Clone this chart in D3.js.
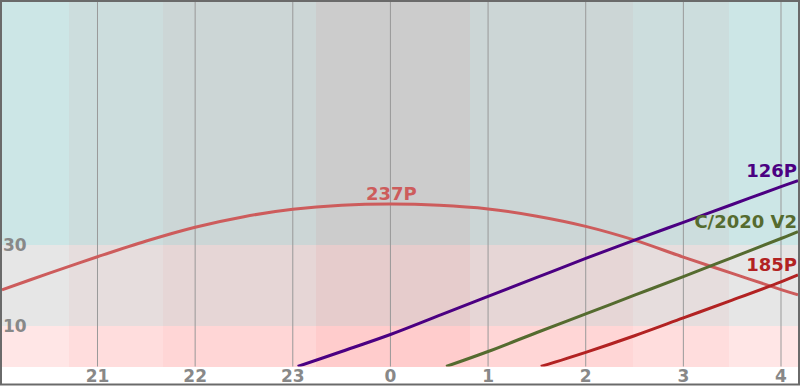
<!DOCTYPE html>
<html>
<head>
<meta charset="utf-8">
<script src="https://cdn.jsdelivr.net/npm/d3@7"></script>
<style>
  body { margin: 0; background: #fff; }
  text { font-family: "DejaVu Sans", sans-serif; font-weight: bold; }
</style>
</head>
<body>
<script>
// hours relative to local midnight
const timeRange = [-3.978, 4.174];
const tickHours = [-3, -2, -1, 0, 1, 2, 3, 4];
const tickLabels = ["21", "22", "23", "0", "1", "2", "3", "4"];

// twilight bands (sun up -> night -> sun up)
const twilightEdges = [-3.978, -3.292, -2.329, -0.762, 0.815, 2.485, 3.468, 4.174];
const twilightLevel = [0, 1, 2, 3, 2, 1, 0];
const twilightShade = [230, 221, 214, 204];

// altitude zones
const altEdges = [0, 10, 30, 90];
const altRed = [255, 230, 204];
const altLabels = [10, 30];

const names = ["237P", "126P", "C/2020 V2", "185P"];
const colors = ["#cd5c5c", "#4b0082", "#556b2f", "#b22222"];

const hours237P = [-3.978, -3.5, -3, -2.5, -2, -1.5, -1, -0.5, 0, 0.5, 1, 1.5, 2, 2.5, 3, 3.5, 4, 4.174];
const alt237P = [18.9, 23.0, 27.1, 31.0, 34.4, 37.0, 38.8, 39.8, 40.1, 39.8, 38.9, 37.1, 34.6, 31.2, 27.0, 23.0, 19.0, 17.7];

const hours126P = [-0.95, -0.5, 0, 0.5, 1, 1.5, 2, 2.5, 3, 3.5, 4, 4.174];
const alt126P = [0, 3.7, 7.9, 12.6, 17.3, 22.0, 26.7, 31.2, 35.6, 40.0, 44.4, 45.9];

const hoursC2020 = [0.57, 1, 1.5, 2, 2.5, 3, 3.5, 4, 4.174];
const altC2020 = [0, 3.7, 8.4, 13.0, 17.6, 22.2, 26.9, 31.6, 33.3];

const hours185P = [1.54, 2, 2.5, 3, 3.5, 4, 4.174];
const alt185P = [0, 3.5, 7.6, 12.0, 16.4, 20.9, 22.6];

const seriesHours = [hours237P, hours126P, hoursC2020, hours185P];
const seriesAlt = [alt237P, alt126P, altC2020, alt185P];

const width = 800;
const height = 386;
const plotLeft = 2, plotRight = 798, plotTop = 2, plotBottom = 366.5;

const x = d3.scaleLinear().domain(timeRange).range([plotLeft, plotRight]);
const y = d3.scaleLinear().domain([0, 90]).range([plotBottom, plotTop]);

const svg = d3.select("body")
    .append("svg")
    .attr("width", width)
    .attr("height", height);

svg.append("clipPath")
    .attr("id", "plot")
    .append("rect")
    .attr("x", plotLeft)
    .attr("y", plotTop)
    .attr("width", plotRight - plotLeft)
    .attr("height", plotBottom - plotTop);

// background cells: twilight band x altitude zone
const cells = [];
twilightLevel.forEach((lvl, i) => {
    altRed.forEach((r, j) => {
        cells.push({ x0: twilightEdges[i], x1: twilightEdges[i + 1], a0: altEdges[j], a1: altEdges[j + 1], r: r, g: twilightShade[lvl] });
    });
});

svg.append("g")
    .selectAll("rect")
    .data(cells)
    .enter().append("rect")
    .attr("x", d => x(d.x0))
    .attr("width", d => x(d.x1) - x(d.x0))
    .attr("y", d => y(d.a1))
    .attr("height", d => y(d.a0) - y(d.a1))
    .attr("fill", d => `rgb(${d.r},${d.g},${d.g})`)
    .attr("shape-rendering", "crispEdges");

// hour grid
svg.append("g")
    .selectAll("line")
    .data(tickHours)
    .enter().append("line")
    .attr("x1", d => x(d))
    .attr("x2", d => x(d))
    .attr("y1", plotTop)
    .attr("y2", plotBottom)
    .attr("stroke", "#999")
    .attr("stroke-width", 1);

svg.append("g")
    .selectAll("text")
    .data(tickHours)
    .enter().append("text")
    .attr("x", d => x(d))
    .attr("y", 382)
    .attr("text-anchor", "middle")
    .attr("fill", "#888")
    .style("font-size", "17px")
    .text((d, i) => tickLabels[i]);

svg.append("g")
    .selectAll("text")
    .data(altLabels)
    .enter().append("text")
    .attr("x", 3)
    .attr("y", d => y(d))
    .attr("dy", "0.36em")
    .attr("fill", "#888")
    .style("font-size", "17px")
    .text(d => d);

// altitude curves
const line = d3.line()
    .x(d => x(d[0]))
    .y(d => y(d[1]))
    .curve(d3.curveCatmullRom.alpha(0.5));

const curves = names.map((name, i) => ({
    name: name,
    color: colors[i],
    points: seriesHours[i].map((h, k) => [h, seriesAlt[i][k]])
}));

svg.append("g")
    .attr("clip-path", "url(#plot)")
    .selectAll("path")
    .data(curves)
    .enter().append("path")
    .attr("d", d => line(d.points))
    .attr("fill", "none")
    .attr("stroke", d => d.color)
    .attr("stroke-width", 3);

// labels: at the peak if it is inside the night, else at the right end
svg.append("g")
    .selectAll("text")
    .data(curves)
    .enter().append("text")
    .each(function (d) {
        const top = d3.greatest(d.points, p => p[1]);
        const last = d.points[d.points.length - 1];
        const atPeak = top !== last;
        d3.select(this)
            .attr("x", atPeak ? x(top[0]) + 1 : plotRight - 1)
            .attr("y", y(atPeak ? top[1] : last[1]) - 4)
            .attr("text-anchor", atPeak ? "middle" : "end");
    })
    .attr("fill", d => d.color)
    .style("font-size", "18px")
    .text(d => d.name);

// frame
svg.append("rect")
    .attr("x", 1)
    .attr("y", 1)
    .attr("width", 798)
    .attr("height", 383.5)
    .attr("fill", "none")
    .attr("stroke", "#6a6a6a")
    .attr("stroke-width", 2);
</script>
</body>
</html>
